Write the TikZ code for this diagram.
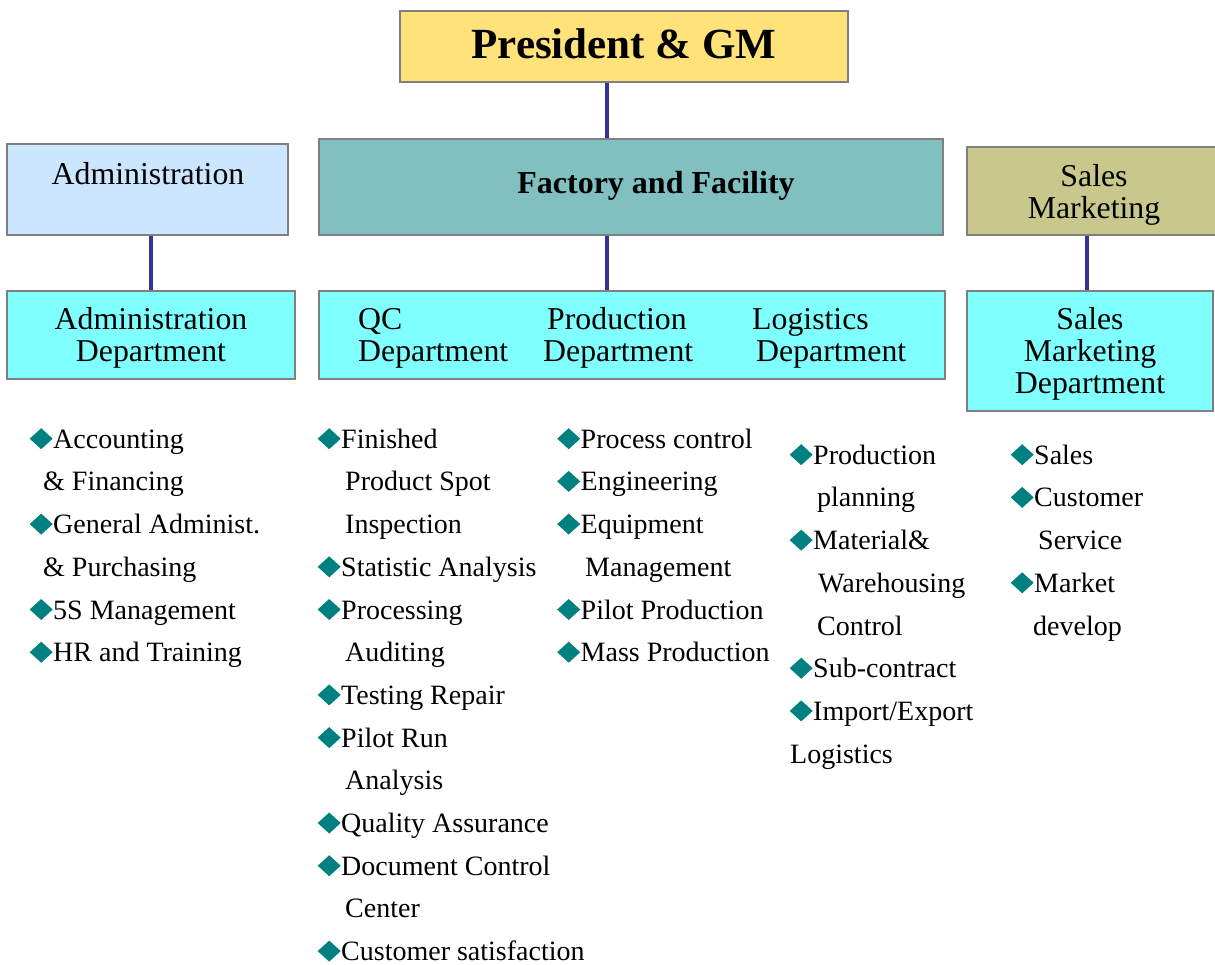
\documentclass[tikz,border=0pt]{standalone}
\usepackage{fontspec}
\setmainfont{Liberation Serif}
\definecolor{presfill}{HTML}{FFE27A}
\definecolor{facfill}{HTML}{80C0C0}
\definecolor{admfill}{HTML}{CCE6FF}
\definecolor{salfill}{HTML}{C8C88C}
\definecolor{depfill}{HTML}{80FFFF}
\definecolor{boxline}{HTML}{808080}
\definecolor{conn}{HTML}{333399}
\definecolor{diacol}{HTML}{008080}
\newcommand\dia{\tikz[x=1pt,y=1pt,baseline=0pt]{\fill[diacol] (0,9.5)--(11.5,20)--(23,9.5)--(11.5,-1)--cycle;}\hspace{0.5pt}}
\newcommand\lstfont{\fontsize{28}{42.7}\selectfont}
\newcommand\boxfont{\fontsize{31.8}{32}\selectfont}
\newcommand\firstl{\rule{0pt}{30pt}}
\tikzset{
  orgbox/.style={draw=boxline, line width=2pt, inner sep=0pt, rectangle},
  link/.style={draw=conn, line width=3.5pt},
  boxtext/.style={inner sep=0pt, font=\boxfont},
  listtext/.style={inner sep=0pt, anchor=north west, align=left, font=\lstfont}
}
\begin{document}
\begin{tikzpicture}[x=1pt,y=-1pt]
\useasboundingbox (0,0) rectangle (1215,964);
% boxes
\node[orgbox, fill=presfill, minimum width=448pt, minimum height=71pt] (pres) at (624,46.5) {};
\node[inner sep=0pt, font=\fontsize{43}{44}\selectfont\bfseries] (prestxt) at (624,43.5) {President \& GM};
\node[orgbox, fill=facfill, minimum width=624pt, minimum height=96pt] (fac) at (631,187) {};
\node[boxtext, font=\fontsize{32}{34}\selectfont\bfseries] (factxt) at (656,186) {Factory and Facility};
\node[orgbox, fill=admfill, minimum width=281pt, minimum height=91pt] (adm) at (147.5,189.5) {};
\node[boxtext] (admtxt) at (148,173.5) {Administration};
\node[orgbox, fill=salfill, minimum width=249pt, minimum height=88pt] (sal) at (1091.5,191) {};
\node[boxtext, align=center] (saltxt) at (1094,195) {Sales\\Marketing};
\node[orgbox, fill=depfill, minimum width=288pt, minimum height=88pt] (adep) at (151,335) {};
\node[boxtext, align=center] (adeptxt) at (151,338) {Administration\\Department};
\node[orgbox, fill=depfill, minimum width=626pt, minimum height=88pt] (fdep) at (632,335) {};
\node[boxtext, align=left, anchor=west] (qctxt) at (358,338) {QC\\Department};
\node[boxtext, align=left, anchor=west] (prodtxt) at (543,338) {\hspace*{4pt}Production\\Department};
\node[boxtext, align=left, anchor=west] (logtxt) at (752,338) {Logistics\\\hspace*{4pt}Department};
\node[orgbox, fill=depfill, minimum width=246pt, minimum height=120pt] (sdep) at (1090,351) {};
\node[boxtext, align=center] (sdeptxt) at (1090,354) {Sales\\Marketing\\Department};
% connectors
\draw[link] ([xshift=-17pt]pres.south) -- ([xshift=-17pt]pres.south |- fac.north);
\draw[link] (adep.north) -- (adep.north |- adm.south);
\draw[link] ([xshift=-25pt]fdep.north) -- ([xshift=-25pt]fdep.north |- fac.south);
\draw[link] ([xshift=-3pt]sdep.north) -- ([xshift=-3pt]sdep.north |- sal.south);
% lists
\node[listtext] (ladm) at (29.5,418) {\firstl\dia Accounting\\
\hspace*{13.5pt}\& Financing\\
\dia General Administ.\\
\hspace*{13.5pt}\& Purchasing\\
\dia 5S Management\\
\dia HR and Training};
\node[listtext] (lqc) at (317.5,418) {\firstl\dia Finished\\
\hspace*{27.5pt}Product Spot\\
\hspace*{27.5pt}Inspection\\
\dia Statistic Analysis\\
\dia Processing\\
\hspace*{27.5pt}Auditing\\
\dia Testing Repair\\
\dia Pilot Run\\
\hspace*{27.5pt}Analysis\\
\dia Quality Assurance\\
\dia Document Control\\
\hspace*{27.5pt}Center\\
\dia Customer satisfaction};
\node[listtext] (lprod) at (557,418) {\firstl\dia Process control\\
\dia Engineering\\
\dia Equipment\\
\hspace*{28pt}Management\\
\dia Pilot Production\\
\dia Mass Production};
\node[listtext] (llog) at (789.5,434) {\firstl\dia Production\\
\hspace*{27.5pt}planning\\
\dia Material\&\\
\hspace*{28.5pt}Warehousing\\
\hspace*{27.5pt}Control\\
\dia Sub-contract\\
\dia Import/Export\\
\hspace*{0.5pt}Logistics};
\node[listtext] (lsal) at (1010.5,434) {\firstl\dia Sales\\
\dia Customer\\
\hspace*{27.5pt}Service\\
\dia Market\\
\hspace*{22.5pt}develop};
\end{tikzpicture}
\end{document}
